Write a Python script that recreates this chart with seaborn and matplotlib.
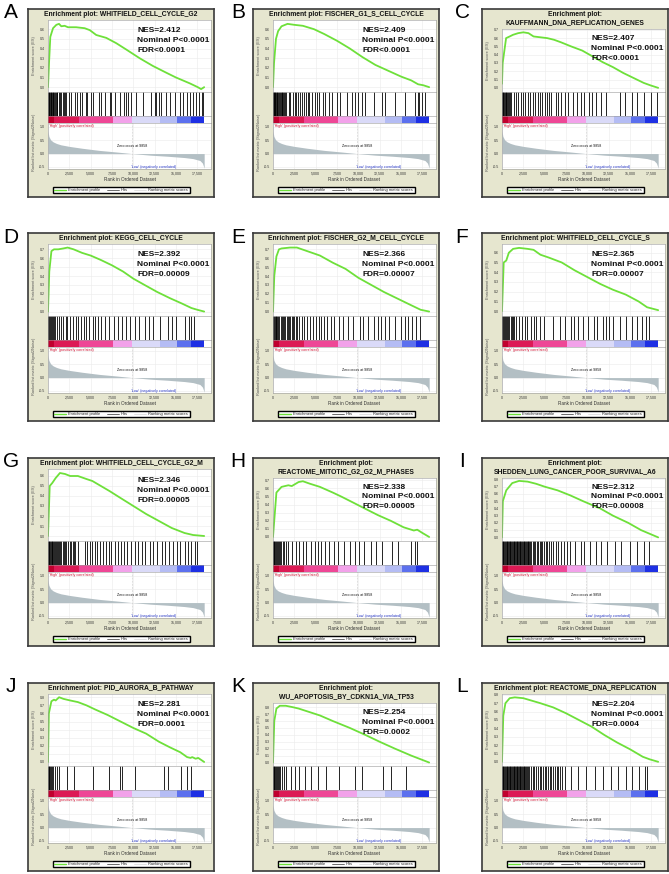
import matplotlib
matplotlib.use('Agg')
import matplotlib.pyplot as plt
import seaborn as sns
from matplotlib.lines import Line2D

sns.set_theme(style='white')
plt.rcParams['font.family'] = ['Liberation Sans Narrow', 'Liberation Sans', 'DejaVu Sans']

# ---- data ----
letters = ['A', 'B', 'C', 'D', 'E', 'F', 'G', 'H', 'I', 'J', 'K', 'L']
titles = ['Enrichment plot: WHITFIELD_CELL_CYCLE_G2',
          'Enrichment plot: FISCHER_G1_S_CELL_CYCLE',
          'Enrichment plot:\nKAUFFMANN_DNA_REPLICATION_GENES',
          'Enrichment plot: KEGG_CELL_CYCLE',
          'Enrichment plot: FISCHER_G2_M_CELL_CYCLE',
          'Enrichment plot: WHITFIELD_CELL_CYCLE_S',
          'Enrichment plot: WHITFIELD_CELL_CYCLE_G2_M',
          'Enrichment plot:\nREACTOME_MITOTIC_G2_G2_M_PHASES',
          'Enrichment plot:\nSHEDDEN_LUNG_CANCER_POOR_SURVIVAL_A6',
          'Enrichment plot: PID_AURORA_B_PATHWAY',
          'Enrichment plot:\nWU_APOPTOSIS_BY_CDKN1A_VIA_TP53',
          'Enrichment plot: REACTOME_DNA_REPLICATION']
nes = ['2.412', '2.409', '2.407', '2.392', '2.366', '2.365',
       '2.346', '2.338', '2.312', '2.281', '2.254', '2.204']
pval = ['<0.0001'] * 12
fdr = ['<0.0001', '<0.0001', '<0.0001', '=0.00009', '=0.00007', '=0.00007',
       '=0.00005', '=0.00005', '=0.00008', '=0.0001', '=0.0002', '=0.0004']

a_rank = [0, 120, 270, 590, 980, 1290, 1560, 1950, 2340, 3300, 4300, 4900, 5650, 6830, 8000,
          9160, 10730, 12280, 13850, 15000, 16600, 17550, 17940, 18300]
a_es = [0.0, 0.25, 0.52, 0.61, 0.645, 0.655, 0.63, 0.635, 0.62, 0.62, 0.61, 0.59, 0.54, 0.51,
        0.455, 0.39, 0.30, 0.22, 0.15, 0.10, 0.04, 0.0, -0.02, 0.0]
b_rank = [0, 120, 350, 600, 1000, 1700, 2500, 3500, 4800, 6000, 7500, 9000, 10500, 12000,
          13500, 15000, 16200, 17000, 17600, 18300]
b_es = [0.0, 0.25, 0.5, 0.58, 0.63, 0.655, 0.645, 0.635, 0.6, 0.55, 0.48, 0.4, 0.31, 0.23,
        0.17, 0.11, 0.07, 0.03, 0.02, 0.0]
c_rank = [0, 80, 480, 900, 1290, 1900, 2500, 3100, 3700, 4500, 5300, 6100, 6900, 8100, 9400,
          10600, 11800, 13000, 14200, 15400, 16600, 17400, 18300]
c_es = [0.05, 0.3, 0.6, 0.62, 0.64, 0.66, 0.67, 0.66, 0.62, 0.61, 0.6, 0.58, 0.55, 0.5, 0.45,
        0.38, 0.31, 0.25, 0.18, 0.12, 0.06, 0.03, 0.0]
d_rank = [0, 150, 400, 700, 1200, 1800, 2300, 3000, 4000, 5000, 6200, 7500, 8800, 10000,
          11300, 12800, 14300, 15700, 16800, 17500, 18300]
d_es = [0.0, 0.45, 0.68, 0.70, 0.70, 0.71, 0.72, 0.70, 0.66, 0.63, 0.58, 0.52, 0.45, 0.37,
        0.30, 0.22, 0.15, 0.09, 0.04, 0.02, 0.0]
e_rank = [0, 150, 400, 700, 1000, 1500, 2000, 2800, 4000, 5500, 7000, 8500, 10000, 11500,
          13000, 14500, 16000, 17300, 18300]
e_es = [0.0, 0.4, 0.62, 0.70, 0.71, 0.715, 0.72, 0.72, 0.68, 0.63, 0.55, 0.48, 0.38, 0.30,
        0.22, 0.15, 0.08, 0.02, 0.0]
f_rank = [0, 200, 500, 800, 1300, 2000, 3000, 3700, 4500, 5500, 7000, 8500, 10000, 11500,
          13000, 14500, 16000, 17000, 18300]
f_es = [0.0, 0.5, 0.52, 0.6, 0.64, 0.65, 0.64, 0.63, 0.58, 0.55, 0.5, 0.42, 0.35, 0.28,
        0.22, 0.17, 0.1, 0.04, 0.01]
g_rank = [0, 200, 500, 900, 1400, 2000, 2600, 3500, 4500, 5200, 6200, 7200, 8500, 10000,
          11500, 13000, 14500, 16000, 17000, 18300]
g_es = [0.0, 0.5, 0.53, 0.58, 0.63, 0.62, 0.6, 0.6, 0.57, 0.55, 0.5, 0.45, 0.38, 0.3, 0.22,
        0.15, 0.08, 0.03, 0.01, 0.0]
h_rank = [0, 400, 1000, 1800, 2200, 3000, 3500, 4300, 5500, 7000, 8000, 9500, 10800, 12300,
          13800, 15300, 16500, 16900, 17500, 18300]
h_es = [0.0, 0.55, 0.62, 0.64, 0.63, 0.68, 0.69, 0.66, 0.62, 0.55, 0.5, 0.42, 0.35, 0.27,
        0.2, 0.12, 0.08, 0.09, 0.05, 0.0]
i_rank = [0, 100, 500, 1200, 2000, 3000, 4000, 5000, 6500, 8000, 9500, 11500, 13000, 14800,
          16300, 18300]
i_es = [0.0, 0.5, 0.65, 0.75, 0.78, 0.77, 0.74, 0.7, 0.65, 0.58, 0.5, 0.4, 0.3, 0.2, 0.1, 0.0]
j_rank = [0, 100, 400, 700, 900, 1300, 1800, 2600, 3500, 4500, 5500, 7000, 8500, 10000, 11500,
          13000, 14300, 15500, 16300, 16700, 16900, 17300, 17600, 18300]
j_es = [0.0, 0.6, 0.75, 0.77, 0.76, 0.8, 0.78, 0.76, 0.74, 0.7, 0.65, 0.58, 0.5, 0.42, 0.35,
        0.25, 0.18, 0.12, 0.06, 0.05, 0.06, 0.04, 0.05, 0.0]
k_rank = [0, 150, 400, 800, 1500, 2300, 3000, 4000, 5500, 7000, 9000, 10800, 12500, 14300,
          16200, 18300]
k_es = [0.0, 0.6, 0.78, 0.82, 0.82, 0.8, 0.78, 0.74, 0.68, 0.6, 0.5, 0.4, 0.3, 0.2, 0.1, 0.0]
l_rank = [0, 150, 400, 900, 1500, 2500, 3500, 4500, 6000, 7500, 9000, 10500, 12000, 13500,
          15000, 16500, 17300, 18300]
l_es = [0.0, 0.55, 0.7, 0.76, 0.77, 0.76, 0.73, 0.7, 0.65, 0.58, 0.5, 0.42, 0.32, 0.23, 0.15,
        0.06, 0.03, 0.0]

a_hits = [20, 80, 150, 230, 300, 380, 460, 540, 620, 700, 800, 900, 1000, 1100, 1250, 1400,
          1550, 1700, 1850, 2000, 2150, 2420, 2730, 3130, 3400, 3700, 4030, 4420, 4610, 5080,
          5280, 5940, 6250, 6720, 7230, 7430, 7820, 8400, 8880, 9110, 9380, 9770, 10360,
          11140, 12120, 12510, 12700, 12980, 13290, 13880, 14270, 14860, 15440, 15830, 16230,
          16620, 17010, 17320, 17670, 17990, 18180]
b_hits = [0, 60, 130, 200, 280, 360, 440, 520, 600, 700, 800, 900, 1000, 1100, 1200, 1320,
          1450, 1560, 1830, 2030, 2300, 2540, 2690, 2930, 3120, 3390, 3630, 3860, 4100, 4250,
          4560, 4880, 5150, 5340, 5810, 6120, 6590, 6900, 7490, 7880, 8660, 9240, 9630, 9950,
          10410, 10800, 11780, 12750, 13140, 14310, 15480, 16650, 16970, 17160, 17510, 17820]
c_hits = [0, 70, 150, 230, 320, 420, 520, 620, 720, 820, 950, 1080, 1370, 1610, 1890, 2180,
          2500, 2740, 3020, 3300, 3630, 3910, 4190, 4510, 4720, 5000, 5240, 5520, 5800, 6330,
          6610, 6930, 7330, 7740, 8340, 8750, 9270, 9550, 10160, 10560, 10960, 11570, 12170,
          13780, 14390, 15190, 15800, 16600, 17410, 18220]
d_hits = [0, 100, 200, 300, 420, 550, 680, 830, 1080, 1320, 1570, 1810, 2060, 2200, 2550,
          2890, 3280, 3530, 3870, 4170, 4510, 4850, 5240, 5490, 5830, 6220, 6710, 7100, 7690,
          8180, 8670, 9160, 9650, 10140, 10630, 11370, 11860, 12350, 13080, 14060, 14550,
          15040, 16020, 16510, 16760, 17100]
e_hits = [0, 100, 200, 300, 400, 520, 640, 760, 880, 1000, 1150, 1300, 1450, 1600, 1750,
          1900, 2050, 2200, 2350, 2500, 2650, 2800, 3040, 3380, 3680, 4020, 4360, 4660, 5000,
          5340, 5640, 5980, 6320, 6810, 7200, 7690, 8180, 8770, 9410, 10140, 10540, 11120,
          11860, 12250, 12600, 13180, 13570, 14310, 15040, 15440, 15780, 16270, 16760, 17250]
f_hits = [0, 100, 200, 300, 420, 550, 700, 850, 1000, 1150, 1300, 1450, 1600, 1970, 2370,
          2710, 2960, 3350, 3700, 4040, 4440, 4930, 5920, 6800, 7400, 8130, 8480, 8870, 9470,
          10110, 10750, 11090, 11830, 12230, 12570, 13060, 13800, 14540, 15280, 15780, 16370,
          16860, 17260]
g_hits = [0, 80, 160, 240, 330, 420, 510, 600, 700, 800, 900, 1000, 1120, 1250, 1400, 1550,
          1700, 1850, 2000, 2150, 2300, 2550, 2700, 2890, 3050, 3190, 3530, 4300, 4600, 4900,
          5200, 5500, 5800, 6100, 6500, 6800, 7100, 7400, 7800, 8200, 8500, 8900, 9300, 9700,
          10200, 10600, 11000, 11400, 11900, 12300, 12800, 13300, 13700, 14200, 14700, 15100,
          15500, 16000, 16400, 16800, 17200, 17500]
h_hits = [0, 80, 160, 250, 350, 450, 560, 680, 800, 920, 1130, 1320, 1520, 1720, 2200, 2700,
          3090, 3480, 3920, 4410, 4900, 5240, 5640, 6130, 6620, 7110, 7600, 8330, 8970, 9560,
          10050, 10630, 11520, 12100, 12740, 13970, 14700, 16170, 16660, 16910]
i_hits = [0, 90, 170, 260, 350, 450, 530, 620, 720, 800, 900, 980, 1080, 1160, 1260, 1350,
          1430, 1530, 1620, 1700, 1800, 1890, 1970, 2070, 2160, 2240, 2340, 2430, 2520, 2610,
          2700, 2800, 2900, 3000, 3100, 3200, 3300, 3400, 3600, 3750, 3900, 4050, 4250, 4400,
          4550, 4700, 4900, 5100, 5300, 5500, 5750, 6000, 6300, 6600, 6900, 7300, 7600, 8000,
          8500, 9200, 9600, 10300, 11000, 11600, 12300, 13200, 14000, 15000, 15800, 16600, 17200]
j_hits = [0, 60, 150, 250, 350, 450, 550, 830, 1080, 1320, 2210, 3040, 5240, 7200, 8430, 8670,
          10140, 13570, 14060, 15530, 16270, 16760]
k_hits = [0, 80, 170, 260, 360, 470, 580, 700, 830, 1080, 1320, 1570, 2060, 2550, 3040, 3770,
          4510, 5240, 6220, 7690, 9650, 10380, 12840, 13810, 15530]
l_hits = [0, 90, 170, 270, 350, 450, 540, 620, 720, 810, 890, 990, 1080, 1170, 1250, 1350,
          1440, 1520, 1620, 1710, 1800, 1880, 1980, 2070, 2150, 2250, 2340, 2430, 2520, 2600,
          2700, 2800, 2900, 3000, 3200, 3400, 3600, 3800, 4000, 4200, 4400, 4600, 4800, 5000,
          5200, 5400, 5600, 5800, 6000, 6200, 6400, 6600, 6800, 7000, 7350, 8130, 8870, 9860,
          10840, 11830, 12820, 13560, 14540, 15280, 16020, 16760, 17010]

# ranked list metric (same dataset for every panel)
metric_rank = [0, 100, 300, 600, 1000, 1500, 2500, 4000, 6000, 8000, 9858, 12000, 14000,
               16000, 17000, 17800, 18100, 18300]
metric_val = [0.85, 0.65, 0.52, 0.44, 0.38, 0.33, 0.27, 0.2, 0.12, 0.06, 0.0, -0.06, -0.1,
              -0.15, -0.19, -0.26, -0.36, -0.55]
zero_cross = 9858
# red -> blue colour bar of the ranked list
bar_edges = [0, 700, 3640, 7630, 9860, 13150, 15140, 16780, 18300]
bar_colors = ['#c0002e', '#dc1a55', '#ee4796', '#f2a2ea', '#dadaf8', '#b4bcf4', '#5c70ee',
              '#1e30e4']
x_ticks = [0, 2500, 5000, 7500, 10000, 12500, 15000, 17500]

es_rank = [a_rank, b_rank, c_rank, d_rank, e_rank, f_rank, g_rank, h_rank, i_rank, j_rank,
           k_rank, l_rank]
es_vals = [a_es, b_es, c_es, d_es, e_es, f_es, g_es, h_es, i_es, j_es, k_es, l_es]
hits = [a_hits, b_hits, c_hits, d_hits, e_hits, f_hits, g_hits, h_hits, i_hits, j_hits,
        k_hits, l_hits]

# ---- layout (pixels) ----
W, H = 669, 874
col_left = [28, 253, 482]
row_top = [9, 233, 458, 683]
letter_x = [11, 238, 462]
FW, FH = 186, 188
XMAX = 19100
GREEN = '#6ee03a'
KHAKI = '#e6e6cf'


def box(x0, y0, x1, y1):
    return [x0 / W, 1 - y1 / H, (x1 - x0) / W, (y1 - y0) / H]


def style_axes(ax):
    for s in ax.spines.values():
        s.set_color('#9a9a9a')
        s.set_linewidth(0.4)
    ax.tick_params(labelsize=2.6, length=1.2, width=0.3, pad=0.8, colors='#333333')


fig = plt.figure(figsize=(W / 100, H / 100), dpi=100)

for i in range(12):
    r, c = divmod(i, 3)
    L, T = col_left[c], row_top[r]
    two_lines = '\n' in titles[i]

    # frame
    fr = fig.add_axes(box(L, T, L + FW, T + FH))
    fr.set_facecolor(KHAKI)
    fr.set_xticks([])
    fr.set_yticks([])
    for s in fr.spines.values():
        s.set_color('#3a3a3a')
        s.set_linewidth(1.2)
    fr.text(0.5, 1 - 2 / FH, titles[i], ha='center', va='top', fontsize=4.9,
            fontweight='bold', color='#111111', linespacing=1.25, transform=fr.transAxes)

    # enrichment score
    es_top = T + (20 if two_lines else 11)
    ax = fig.add_axes(box(L + 20, es_top, L + 183, T + 83))
    sns.lineplot(x=es_rank[i], y=es_vals[i], ax=ax, color=GREEN, linewidth=1.3, legend=False)
    top = max(es_vals[i]) + 0.04
    ax.set_xlim(0, XMAX)
    ax.set_ylim(-0.05, top)
    ax.set_xticks(x_ticks)
    ax.set_xticklabels([])
    ax.set_yticks([round(0.1 * k, 1) for k in range(int(top * 10 + 1e-6) + 1)])
    ax.yaxis.set_major_formatter(matplotlib.ticker.FormatStrFormatter('%.1f'))
    ax.tick_params(axis='x', length=0)
    ax.grid(True, color='#ebebeb', linewidth=0.4)
    ax.set_xlabel('')
    ax.set_ylabel('')
    style_axes(ax)

    # hits
    axh = fig.add_axes(box(L + 20, T + 83, L + 183, T + 107))
    axh.vlines(hits[i], 0, 1, color='black', linewidth=0.6)
    axh.set_xlim(0, XMAX)
    axh.set_ylim(0, 1)
    axh.set_xticks([])
    axh.set_yticks([])
    style_axes(axh)

    # colour bar
    axc = fig.add_axes(box(L + 20, T + 107, L + 183, T + 114))
    for k in range(len(bar_colors)):
        axc.axvspan(bar_edges[k], bar_edges[k + 1], color=bar_colors[k], linewidth=0)
    axc.set_xlim(0, XMAX)
    axc.set_xticks([])
    axc.set_yticks([])
    style_axes(axc)

    # ranked list metric
    axr = fig.add_axes(box(L + 20, T + 114, L + 183, T + 160))
    axr.fill_between(metric_rank, metric_val, 0, color='#b3bfc4', linewidth=0)
    axr.axvline(zero_cross, color='#9a9a9a', linestyle=':', linewidth=0.4)
    axr.set_xlim(0, XMAX)
    axr.set_ylim(-0.58, 1.15)
    axr.set_yticks([-0.5, 0.0, 0.5, 1.0])
    axr.yaxis.set_major_formatter(matplotlib.ticker.FormatStrFormatter('%.1f'))
    axr.set_xticks(x_ticks)
    axr.set_xticklabels([f'{t:,}' for t in x_ticks])
    axr.grid(True, color='#ebebeb', linewidth=0.4)
    axr.set_xlabel('Rank in Ordered Dataset', fontsize=3.3, labelpad=1.2, color='#333333')
    style_axes(axr)
    axr.text(150, 1.1, "'High' (positively correlated)", fontsize=2.6, color='#d01030',
             va='top', ha='left')
    axr.text(zero_cross, 0.27, 'Zero cross at 9858', fontsize=2.6, color='#111111',
             ha='center', va='center')
    axr.text(12400, -0.5, "'Low' (negatively correlated)", fontsize=2.6, color='#2838c8',
             ha='center', va='center')

    fig.text((L + 6) / W, 1 - ((es_top + T + 83) / 2) / H, 'Enrichment score (ES)',
             rotation=90, ha='center', va='center', fontsize=2.8, color='#555555')
    fig.text((L + 6) / W, 1 - (T + 133) / H, 'Ranked list metric (Signal2Noise)',
             rotation=90, ha='center', va='center', fontsize=2.8, color='#555555')

    # legend
    handles = [Line2D([], [], color=GREEN, linewidth=1.0),
               Line2D([], [], color='#333333', linewidth=0.5),
               Line2D([], [], color='#d4d4d4', linewidth=0.5)]
    fr.legend(handles, ['Enrichment profile', 'Hits', 'Ranking metric scores'],
              loc='lower center', bbox_to_anchor=(0.5, 1.5 / FH), ncol=3, fontsize=2.9,
              frameon=True, fancybox=False, edgecolor='black', framealpha=1,
              borderpad=0.35, handlelength=3.0, handletextpad=0.5, columnspacing=1.6)

    # statistics
    y0 = T + (29 if two_lines else 22)
    for k, s in enumerate(['NES=' + nes[i], 'Nominal P' + pval[i], 'FDR' + fdr[i]]):
        fig.text((L + 109) / W, 1 - (y0 + 10 * k) / H, s, fontsize=6.0, fontweight='bold',
                 color='#111111', ha='left', va='center')

    fig.text(letter_x[c] / W, 1 - (T + 4) / H, letters[i], fontsize=15,
             family=['Liberation Sans', 'DejaVu Sans'], ha='center', va='center',
             color='black')

fig.savefig('out.png', dpi=100)
